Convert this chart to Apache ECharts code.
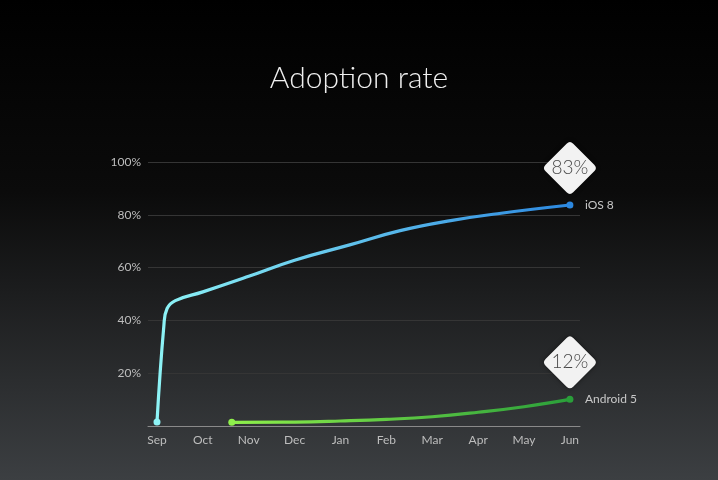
<!DOCTYPE html>
<html>
<head>
<meta charset="utf-8">
<script src="https://cdn.jsdelivr.net/npm/echarts@6/dist/echarts.min.js"></script>
<style>
  html, body { margin: 0; padding: 0; background: #000; }
  #adoption { width: 718px; height: 480px; }
</style>
</head>
<body>
<div id="adoption"></div>
<script>
var months = ['Sep', 'Oct', 'Nov', 'Dec', 'Jan', 'Feb', 'Mar', 'Apr', 'May', 'Jun'];
var yTicks = [0, 20, 40, 60, 80, 100];

// [month index, percent]
var iosX = [0, 0.15, 0.22, 0.4, 1, 2, 3, 4.2, 5.3, 6.4, 7.5, 9];
var iosY = [1.5, 38, 44.5, 47.5, 50.8, 56.7, 62.8, 68.6, 74, 77.8, 80.6, 83.7];

var androidX = [1.63, 3, 4, 5, 6, 7, 8, 9];
var androidY = [1.4, 1.5, 1.9, 2.5, 3.5, 5.2, 7.3, 10.1];

var badges = ['83%', '12%'];
var names = ['iOS 8', 'Android 5'];

var diamond = 'path://M44,6 Q50,0 56,6 L94,44 Q100,50 94,56 L56,94 Q50,100 44,94 L6,56 Q0,50 6,44 Z';

function buildData(xs, ys, startColor, endColor) {
    return xs.map(function (x, i) {
        var item = { value: [x, ys[i]] };
        if (i === 0) {
            item.itemStyle = { color: startColor };
        } else if (i === xs.length - 1) {
            item.itemStyle = { color: endColor };
        } else {
            item.symbol = 'none';
        }
        return item;
    });
}

function lineSeries(name, xs, ys, c1, c2, badge) {
    var last = xs.length - 1;
    return {
        name: name,
        type: 'line',
        smooth: 0.45,
        symbol: 'circle',
        symbolSize: 7,
        data: buildData(xs, ys, c1, c2),
        lineStyle: {
            width: 3.2,
            color: new echarts.graphic.LinearGradient(0, 0, 1, 0, [
                { offset: 0, color: c1 },
                { offset: 1, color: c2 }
            ])
        },
        endLabel: {
            show: true,
            formatter: name,
            color: '#c8c8c8',
            fontSize: 12,
            distance: 15,
            fontFamily: 'Lato'
        },
        markPoint: {
            symbol: diamond,
            symbolSize: 52,
            symbolOffset: [0, -37],
            itemStyle: { color: '#f2f2f2', shadowBlur: 4, shadowColor: 'rgba(0,0,0,0.5)' },
            label: {
                show: true,
                formatter: badge,
                color: '#484848',
                fontSize: 19,
                fontFamily: 'Lato',
                fontWeight: 300
            },
            data: [{ coord: [xs[last], ys[last]] }]
        }
    };
}

var myChart = echarts.init(document.getElementById('adoption'));
option = {
    backgroundColor: new echarts.graphic.LinearGradient(0, 0, 0, 1, [
        { offset: 0, color: '#000000' },
        { offset: 0.4, color: '#0b0b0b' },
        { offset: 1, color: '#3c3f42' }
    ]),
    animation: false,
    title: {
        text: 'Adoption rate',
        left: 'center',
        top: 58,
        textStyle: {
            color: '#f0f0f0',
            fontSize: 30,
            fontWeight: 300,
            fontFamily: 'Lato'
        }
    },
    grid: { left: 148, right: 138, top: 162, bottom: 54 },
    xAxis: {
        type: 'value',
        min: -0.196,
        max: 9.22,
        axisLine: { show: true, lineStyle: { color: '#8a8a8a', width: 1 } },
        axisTick: { show: false },
        splitLine: { show: false },
        axisLabel: {
            customValues: months.map(function (m, i) { return i; }),
            formatter: function (v) { return months[Math.round(v)]; },
            color: '#bdbdbd',
            fontSize: 12,
            fontFamily: 'Lato',
            margin: 8
        }
    },
    yAxis: {
        type: 'value',
        min: yTicks[0],
        max: yTicks[yTicks.length - 1],
        interval: 20,
        axisLine: { show: false },
        axisTick: { show: false },
        splitLine: { lineStyle: { color: '#353535', width: 1 } },
        axisLabel: {
            formatter: function (v) { return v === 0 ? '' : v + '%'; },
            color: '#bdbdbd',
            fontSize: 12,
            fontFamily: 'Lato',
            margin: 7
        }
    },
    series: [
        lineSeries(names[0], iosX, iosY, '#8ef4f6', '#2c88e0', badges[0]),
        lineSeries(names[1], androidX, androidY, '#8ff04c', '#2a9e3a', badges[1])
    ]
};
myChart.setOption(option);
</script>
</body>
</html>
